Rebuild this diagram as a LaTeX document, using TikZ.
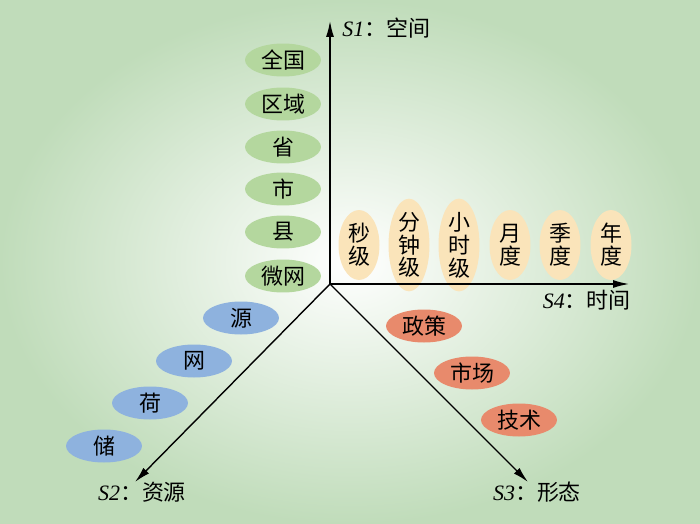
\documentclass[tikz,border=0pt]{standalone}
\usepackage{fontspec}
\setmainfont{Liberation Serif}
\newfontfamily\cjk{Noto Sans CJK SC}
\usetikzlibrary{shapes.geometric,arrows.meta}

\definecolor{bggreen}{RGB}{192,220,186}
\definecolor{spacegreen}{RGB}{180,215,158}
\definecolor{timeyellow}{RGB}{250,228,186}
\definecolor{resblue}{RGB}{142,178,222}
\definecolor{formred}{RGB}{232,138,108}

\tikzset{
	blob/.style={ellipse, inner sep=0pt, minimum width=1.52cm, minimum height=0.66cm, font=\cjk\fontsize{12.5}{13}\selectfont},
	tallblob/.style={ellipse, inner sep=0pt, minimum width=0.82cm, minimum height=1.4cm, align=center, fill=timeyellow, font=\cjk\fontsize{12.5}{13}\selectfont},
	axis/.style={line width=0.8pt, -{Latex[length=9pt,width=4.5pt]}},
	axislabel/.style={inner sep=0pt, font=\fontsize{12.5}{14}\selectfont}
}

\begin{document}
\begin{tikzpicture}[x=0.02cm, y=-0.02cm]
		% background
		\useasboundingbox (0,0) rectangle (700,524);
		\shade[inner color=white, outer color=bggreen] (0,0) rectangle (700,524);
		
		%S1: space levels
		\node[blob, fill=spacegreen] (quanguo) at (283,60) {全国};
		\node[blob, fill=spacegreen] (quyu) at (283,104) {区域};
		\node[blob, fill=spacegreen] (sheng) at (283,147) {省};
		\node[blob, fill=spacegreen] (shi) at (283,189) {市};
		\node[blob, fill=spacegreen] (xian) at (283,232) {县};
		\node[blob, fill=spacegreen] (weiwang) at (283,276) {微网};
		
		%S4: time levels
		\node[tallblob] (miao) at (359,245) {秒\\级};
		\node[tallblob] (fen) at (409,245) {分\\钟\\级};
		\node[tallblob] (xiaoshi) at (459,245) {小\\时\\级};
		\node[tallblob] (yue) at (510,245) {月\\度};
		\node[tallblob] (ji) at (560,245) {季\\度};
		\node[tallblob] (nian) at (611,245) {年\\度};
		
		%S2: resources
		\node[blob, fill=resblue] (yuan) at (241,318) {源};
		\node[blob, fill=resblue] (wang) at (194,361) {网};
		\node[blob, fill=resblue] (he) at (150,403) {荷};
		\node[blob, fill=resblue] (chu) at (104,446) {储};
		
		%S3: forms
		\node[blob, fill=formred] (zhengce) at (424,326) {政策};
		\node[blob, fill=formred] (shichang) at (472,373) {市场};
		\node[blob, fill=formred] (jishu) at (519,420) {技术};
		
		%axes
		\coordinate (o) at (330,284);
		\coordinate (s1tip) at (330,21);
		\coordinate (s4tip) at (629,284);
		\coordinate (s2tip) at (135,482);
		\coordinate (s3tip) at (528,482);
		\draw[axis] (o) -- (s1tip);
		\draw[axis] (o) -- (s4tip);
		\draw[axis] (o) -- (s2tip);
		\draw[axis] (o) -- (s3tip);
		
		%axis labels
		\node[axislabel, anchor=west] (s1) at (342,28) {\textit{S1}{\cjk ：空间}};
		\node[axislabel, anchor=east] (s4) at (631,300) {\textit{S4}{\cjk ：时间}};
		\node[axislabel] (s2) at (142,492) {\textit{S2}{\cjk ：资源}};
		\node[axislabel] (s3) at (537,492) {\textit{S3}{\cjk ：形态}};
		
\end{tikzpicture}
\end{document}
